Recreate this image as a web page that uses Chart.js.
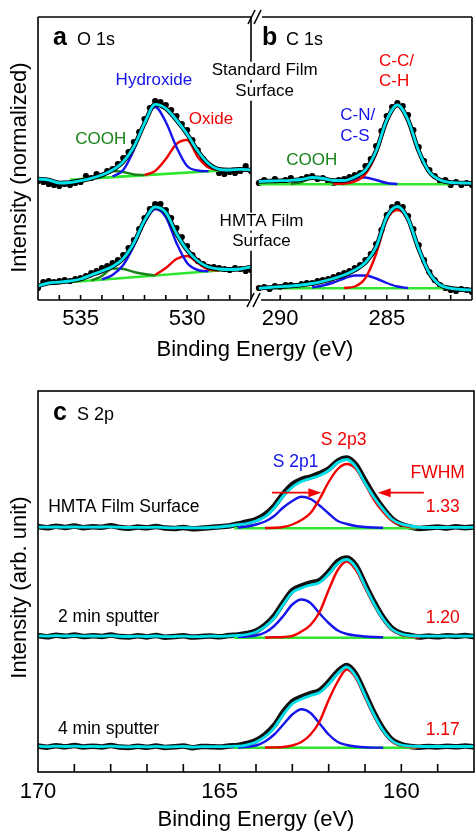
<!DOCTYPE html>
<html>
<head>
<meta charset="utf-8">
<script src="https://cdn.jsdelivr.net/npm/chart.js@4.4.0/dist/chart.umd.min.js"></script>
<style>
  html, body { margin: 0; padding: 0; background: #fff; overflow: hidden; }
  #cvs_topo { position: absolute; left: 0; top: 0; }
  #cvs_baixo { position: absolute; left: 0; top: 370px; }
</style>
</head>
<body>
<canvas id="cvs_topo" width="476" height="370"></canvas>
<canvas id="cvs_baixo" width="476" height="461"></canvas>
<script>
// ---------- O 1s (painel a) ----------
const oTicks = [535, 530];
const oEnergy = [537, 536.5, 536, 535.5, 535, 534.5, 534, 533.5, 533, 532.5, 532, 531.5, 531, 530.5, 530, 529.5, 529, 528.5, 528, 527.5, 527];
const oDotEnergy = [537, 536.75, 536.5, 536.25, 536, 535.75, 535.5, 535.25, 535, 534.75, 534.5, 534.25, 534, 533.75, 533.5, 533.25, 533, 532.75, 532.5, 532.25, 532, 531.75, 531.5, 531.25, 531, 530.75, 530.5, 530.25, 530, 529.75, 529.5, 529.25, 529, 528.75, 528.5, 528.25, 528, 527.75, 527.5, 527.25, 527];

const oStdData = [119, 118, 116, 115, 114, 116, 115, 117, 118, 124, 122, 126, 124, 129, 131, 136, 142, 148, 158, 168, 181, 192, 199, 198, 195, 190, 184, 176, 170, 160, 150, 141, 135, 131, 127, 126, 128, 127, 129, 134, 129];
const oStdFit = [121, 120, 117, 117.5, 119.3, 121.7, 125, 130, 138.3, 153.3, 176.7, 195.7, 191.7, 180, 166, 149, 136.5, 130.7, 130, 130.7, 130];
const oStdHydroxide = [null, null, null, null, null, null, null, 123.5, 130, 150, 178, 193, 178, 153, 134, 129.5, 128.7, null, null, null, null];
const oStdOxide = [null, null, null, null, null, null, null, null, null, null, 125, 129, 141, 156, 160, 143, 132.5, 130.3, 130, null, null];
const oStdCooh = [null, null, null, null, 120.8, 121.5, 123.5, 129, 128, 125.5, 124.9, null, null, null, null, null, null, null, null, null, null];
const oStdBgEnergy = [535.5, 528];
const oStdBg = [120.3, 130];

const oHmtaData = [12, 18, 19, 18, 19, 20, 19, 21, 22, 24, 27, 29, 32, 34, 37, 40, 45, 52, 60, 71, 82, 91, 96, 96, 90, 82, 72, 63, 54, 45, 39, 36, 33, 33, 32, 31, 30, 32, 31, 29, 30];
const oHmtaFit = [14, 17, 17.8, 19, 21, 25, 29, 33.5, 41.5, 57, 79.5, 93, 87.5, 66.5, 50, 39, 33, 31, 30.5, 31, 33];
const oHmtaHydroxide = [null, null, null, null, null, null, 20.5, 25, 35, 54, 77, 91, 83, 57, 37, 30, 28.7, null, null, null, null];
const oHmtaOxide = [null, null, null, null, null, null, null, null, null, null, null, 25, 32, 41, 44, 37, 30.5, 29.5, null, null, null];
const oHmtaCooh = [null, null, null, null, null, 19.5, 24, 31.5, 31, 28, 26, 24.5, null, null, null, null, null, null, null, null, null];
const oHmtaBgEnergy = [535.4, 528.2];
const oHmtaBg = [18, 30];

// ---------- C 1s (painel b) ----------
const cTicks = [290, 285];
const cEnergy = [291, 290.5, 290, 289.5, 289, 288.5, 288, 287.5, 287, 286.5, 286, 285.5, 285, 284.5, 284, 283.5, 283, 282.5, 282, 281.5, 281];
const cDotEnergy = [291, 290.75, 290.5, 290.25, 290, 289.75, 289.5, 289.25, 289, 288.75, 288.5, 288.25, 288, 287.75, 287.5, 287.25, 287, 286.75, 286.5, 286.25, 286, 285.75, 285.5, 285.25, 285, 284.75, 284.5, 284.25, 284, 283.75, 283.5, 283.25, 283, 282.75, 282.5, 282.25, 282, 281.75, 281.5, 281.25, 281];

const cStdData = [117, 120, 118, 121, 118, 120, 122, 119, 121, 123, 124, 121, 122, 118, 117, 120, 121, 123, 125, 127, 134, 141, 154, 169, 184, 193, 197, 194, 185, 170, 153, 139, 130, 124, 119, 120, 115, 118, 115, 117, 115];
const cStdFit = [118.5, 119, 119.3, 119.7, 120.5, 122.5, 121.5, 119.5, 119.5, 123, 130, 149, 180, 195, 180, 149, 128, 120, 117.5, 117, 116.7];
const cStdCC = [null, null, null, null, null, null, null, 116, 116.5, 118.5, 126, 146, 178, 194, 179, 148, 127.5, 119.5, 116.5, 116, null];
const cStdCN = [null, null, null, null, null, null, null, 116, 117, 121, 122.5, 120, 117, 116, null, null, null, null, null, null, null];
const cStdCooh = [null, null, null, 116, 118, 121.5, 120.5, 117, 116, null, null, null, null, null, null, null, null, null, null, null, null];
const cStdBgEnergy = [291, 282];
const cStdBg = [115.7, 115.7];

const cHmtaData = [12, 13, 11, 14, 13, 15, 15, 14, 16, 17, 17, 19, 20, 21, 23, 25, 27, 29, 32, 35, 40, 46, 56, 70, 85, 93, 96, 93, 84, 71, 55, 40, 28, 20, 15, 12, 10, 9, 11, 10, 8];
const cHmtaFit = [11.7, 12.5, 13.3, 14, 15, 16.5, 18.7, 21.5, 25, 30, 37.5, 53, 83, 93.5, 81, 51, 27, 15, 11.7, 10.5, 10];
const cHmtaCC = [null, null, null, null, null, null, null, null, 12, 13.5, 22, 46, 80, 90, 80, 50.5, 26.5, 14.5, 11.7, null, null];
const cHmtaCN = [null, null, null, null, null, 12.5, 14.5, 17.5, 21.5, 24.5, 24.5, 21.5, 17, 13.5, 12, null, null, null, null, null, null];
const cHmtaBgEnergy = [291, 281.5];
const cHmtaBg = [11.7, 11.7];

// ---------- S 2p (painel c) ----------
const sTicks = [170, 165, 160];
const sEnergy = [170, 169.75, 169.5, 169.25, 169, 168.75, 168.5, 168.25, 168, 167.75, 167.5, 167.25, 167, 166.75, 166.5, 166.25, 166, 165.75, 165.5, 165.25, 165, 164.75, 164.5, 164.25, 164, 163.75, 163.5, 163.25, 163, 162.75, 162.5, 162.25, 162, 161.75, 161.5, 161.25, 161, 160.75, 160.5, 160.25, 160, 159.75, 159.5, 159.25, 159, 158.75, 158.5, 158.25, 158];
const sFitEnergy = [165, 164.75, 164.5, 164.25, 164, 163.75, 163.5, 163.25, 163, 162.75, 162.5, 162.25, 162, 161.75, 161.5, 161.25, 161, 160.75, 160.5, 160.25, 160, 159.75, 159.5, 159.25, 159];
const sBgEnergy = [164.6, 159.6];

const sHmtaData = [245.5, 244.2, 245.8, 244.6, 246, 244.3, 245.2, 244.8, 246.2, 244.5, 243.8, 245, 244.2, 245.6, 243.9, 243.5, 244.6, 243.2, 243.8, 244.4, 245.2, 246, 248, 250, 252.5, 257.5, 266, 278, 287.5, 292.5, 295, 298.5, 303, 311, 314, 307, 291.5, 276.5, 263.5, 253, 247.5, 245, 243.5, 244.2, 245, 244, 245.2, 244.3, 245];
const sHmtaFit = [245, 244.8, 245, 244.9, 245.1, 244.8, 244.9, 245, 245.2, 244.8, 244.5, 244.7, 244.6, 244.8, 244.4, 244.2, 244.4, 244.1, 244.2, 244.5, 245, 246, 247.3, 248.5, 251, 255.3, 264, 276, 285, 290.5, 293.5, 296.5, 301.5, 309.5, 312.5, 305, 289, 274.5, 262.5, 252.5, 248, 246, 244.7, 244.5, 244.5, 244.5, 244.6, 244.5, 244.6];
const sHmta2p3 = [null, null, null, null, null, 244, 244.2, 245, 247.5, 252, 259, 273, 290, 303, 308, 303, 288, 272, 260, 251, 247, 245, 244.5, null, null];
const sHmta2p1 = [null, null, 244.5, 245.5, 247.5, 250.5, 256, 264.5, 271, 275.3, 273, 266.5, 258.5, 251, 248, 246, 245, 244.5, 244.2, null, null, null, null, null, null];
const sHmtaBg = [243.7, 243.7];

const s2minData = [136.5, 135.2, 136.8, 135.8, 137, 135.5, 136.2, 135.6, 136.9, 135.4, 135, 136.3, 135.1, 136.6, 134.8, 135.4, 136.2, 134.9, 135.5, 136, 135.2, 136.4, 137, 138.5, 141, 147, 156, 169.5, 181.5, 186, 189, 191.5, 200, 210.5, 214, 206.5, 188, 170, 154.5, 143.5, 138.5, 136.5, 135, 136, 135.2, 136.3, 135.5, 136.4, 135.4];
const s2minFit = [136.2, 135.8, 136.3, 136, 136.4, 135.9, 136, 135.9, 136.3, 135.7, 135.5, 135.9, 135.5, 136, 135.3, 135.5, 135.8, 135.3, 135.5, 135.8, 135.7, 136, 136.5, 137.5, 140, 145.3, 154, 167.5, 179.5, 184, 187, 189.5, 198, 208.5, 212.5, 204.5, 186, 168, 153, 142.5, 138, 136.3, 135.8, 135.8, 135.8, 135.8, 135.8, 135.8, 135.8];
const s2min2p3 = [null, null, null, null, null, 134.5, 134.7, 135, 136, 140.5, 147, 160, 182, 202, 210.5, 202, 184.5, 167, 152.5, 142, 137.5, 135.5, 134.5, null, null];
const s2min2p1 = [null, null, 135, 135.5, 136.5, 139.5, 146, 156, 167.5, 172.5, 169, 158.5, 149, 141.5, 138, 136.5, 135.5, 135, 134.7, null, null, null, null, null, null];
const s2minBg = [134.3, 134.3];

const s4minData = [26, 24.8, 26.3, 25.2, 26.5, 25, 25.8, 25.1, 26.4, 24.9, 24.6, 25.8, 24.7, 26, 24.5, 25.2, 26.1, 24.2, 25.6, 25.3, 25, 26, 26.5, 28.5, 31.5, 37.5, 46.5, 60, 70.5, 75, 78.5, 81.5, 90, 100.5, 106.5, 97.5, 78.5, 59, 43, 32, 27.5, 25.5, 24.8, 25.6, 24.9, 25.8, 25.2, 26, 25.3];
const s4minFit = [25.8, 25.4, 25.8, 25.5, 25.9, 25.4, 25.6, 25.4, 25.8, 25.3, 25.1, 25.5, 25.2, 25.6, 25, 25.3, 25.6, 24.9, 25.4, 25.4, 25.3, 25.6, 25.8, 27.2, 30, 35.3, 44.2, 57.5, 68.3, 73, 76.5, 79.5, 88, 98.5, 105, 95.5, 76.5, 57, 41.5, 31, 27, 25.8, 25.5, 25.5, 25.5, 25.5, 25.5, 25.5, 25.5];
const s4min2p3 = [null, null, null, null, null, 24.5, 24.6, 25, 26.5, 30, 37.5, 50.5, 72, 90.5, 102.5, 94, 75.5, 56, 41, 30.5, 26.5, 25, 24.5, null, null];
const s4min2p1 = [null, null, 24.5, 25.3, 26.5, 30.5, 37.5, 47.5, 57.5, 62.7, 59, 48.5, 37.5, 30, 27, 25.5, 24.7, 24.4, 24.3, null, null, null, null, null, null];
const s4minBg = [24.3, 24.3];

// ---------- estilos ----------
const FONTE = '"Liberation Sans", Arial, sans-serif';
const AZUL = "rgb(20, 20, 235)";
const VERMELHO = "rgb(240, 0, 0)";
const VERDE_ESCURO = "rgb(25, 130, 25)";
const VERDE_CLARO = "rgb(45, 230, 45)";
const CIANO = "rgb(0, 225, 235)";

// textos dos paineis a/b, posicao em unidades dos eixos
const rotulosTopo = [
  { eixo: "xa", e: 531.56, v: 220, t: "Hydroxide", cor: AZUL },
  { eixo: "xa", e: 528.88, v: 181, t: "Oxide", cor: VERMELHO },
  { eixo: "xa", e: 534.05, v: 160.7, t: "COOH", cor: VERDE_ESCURO },
  { eixo: "xb", e: 290.73, v: 229.3, t: "Standard Film", cor: "#000", fundo: true },
  { eixo: "xb", e: 290.73, v: 208.3, t: "Surface", cor: "#000", fundo: true },
  { eixo: "xb", e: 290.88, v: 78.3, t: "HMTA Film", cor: "#000", fundo: true },
  { eixo: "xb", e: 290.88, v: 58.3, t: "Surface", cor: "#000", fundo: true },
  { eixo: "xb", e: 285.36, v: 238.3, t: "C-C/", cor: VERMELHO, alinhar: "left" },
  { eixo: "xb", e: 285.36, v: 218.3, t: "C-H", cor: VERMELHO, alinhar: "left" },
  { eixo: "xb", e: 287.18, v: 185, t: "C-N/", cor: AZUL, alinhar: "left" },
  { eixo: "xb", e: 287.18, v: 163.3, t: "C-S", cor: AZUL, alinhar: "left" },
  { eixo: "xb", e: 288.52, v: 139.3, t: "COOH", cor: VERDE_ESCURO },
];

const rotulosBaixo = [
  { e: 161.59, v: 332, t: "S 2p3", cor: VERMELHO },
  { e: 162.91, v: 310.3, t: "S 2p1", cor: AZUL },
  { e: 159.0, v: 298.7, t: "FWHM", cor: VERMELHO },
  { e: 158.86, v: 265.3, t: "1.33", cor: VERMELHO },
  { e: 158.86, v: 153.7, t: "1.20", cor: VERMELHO },
  { e: 158.86, v: 42, t: "1.17", cor: VERMELHO },
  { e: 169.72, v: 265.3, t: "HMTA Film Surface", cor: "#000", alinhar: "left" },
  { e: 169.45, v: 155.3, t: "2 min sputter", cor: "#000", alinhar: "left" },
  { e: 169.45, v: 42.7, t: "4 min sputter", cor: "#000", alinhar: "left" },
];

// setas do FWHM (de -> ate, na altura v)
const setasFwhm = [
  { de: 163.56, ate: 162.2, v: 279.3 },
  { de: 159.38, ate: 160.65, v: 279.3 },
];

function pontos(energias, valores) {
  const lista = [];
  for (let i = 0; i < energias.length; i++) {
    if (valores[i] !== null) lista.push({ x: energias[i], y: valores[i] });
  }
  return lista;
}

function curva(eixoX, energias, valores, cor, largura, ordem) {
  return {
    xAxisID: eixoX,
    yAxisID: "y",
    data: pontos(energias, valores),
    borderColor: cor,
    borderWidth: largura,
    pointRadius: 0,
    fill: false,
    cubicInterpolationMode: "monotone",
    order: ordem,
  };
}

function bolinhas(eixoX, energias, valores) {
  return {
    xAxisID: eixoX,
    yAxisID: "y",
    data: pontos(energias, valores),
    showLine: false,
    pointRadius: 3.1,
    pointBackgroundColor: "#000",
    pointBorderWidth: 0,
    order: 5,
  };
}

function escrever(ctx, t, x, y, cor, fonte, alinhar, fundo) {
  ctx.save();
  ctx.font = fonte;
  ctx.textAlign = alinhar || "center";
  ctx.textBaseline = "middle";
  if (fundo) {
    const w = ctx.measureText(t).width;
    const x0 = alinhar === "left" ? x : x - w / 2;
    ctx.fillStyle = "#fff";
    ctx.fillRect(x0 - 1, y - 9, w + 2, 18);
  }
  ctx.fillStyle = cor;
  ctx.fillText(t, x, y);
  ctx.restore();
}

function linha(ctx, x1, y1, x2, y2) {
  ctx.beginPath();
  ctx.moveTo(x1, y1);
  ctx.lineTo(x2, y2);
  ctx.stroke();
}

function tituloPainel(ctx, letra, nome, x, y) {
  ctx.save();
  ctx.fillStyle = "#000";
  ctx.textBaseline = "alphabetic";
  ctx.textAlign = "left";
  ctx.font = "bold 25px " + FONTE;
  ctx.fillText(letra, x, y);
  ctx.font = "18px " + FONTE;
  ctx.fillText(nome, x + 24, y);
  ctx.restore();
}

// moldura, marcas, quebra e textos do grafico de cima
const molduraTopo = {
  id: "molduraTopo",
  afterDraw(chart) {
    const ctx = chart.ctx;
    const xa = chart.scales.xa;
    const xb = chart.scales.xb;
    const y = chart.scales.y;
    const topo = chart.chartArea.top;
    const base = chart.chartArea.bottom;
    const xq = xa.right;

    ctx.save();
    ctx.strokeStyle = "#000";
    ctx.lineWidth = 1.6;
    linha(ctx, xa.left, topo, xa.left, base);
    linha(ctx, xb.right, topo, xb.right, base);
    linha(ctx, xq, topo, xq, base);
    linha(ctx, xa.left, topo, xq, topo);
    linha(ctx, xq + 11, topo, xb.right, topo);
    linha(ctx, xa.left, base, xq - 2, base);
    linha(ctx, xq + 10, base, xb.right, base);

    // marcas de quebra "//"
    for (const k of [0, 6]) {
      linha(ctx, xq - 3 + k, topo + 7, xq + 4 + k, topo - 7);
      linha(ctx, xq - 4 + k, base + 7, xq + 3 + k, base - 7);
    }

    // marcas a cada 1 eV, para dentro
    for (const eixo of [xa, xb]) {
      for (let e = Math.ceil(eixo.min + 0.5); e <= Math.floor(eixo.max - 0.5); e++) {
        const px = eixo.getPixelForValue(e);
        linha(ctx, px, base, px, base - 5);
      }
    }
    ctx.restore();

    for (const r of rotulosTopo) {
      const eixo = chart.scales[r.eixo];
      escrever(ctx, r.t, eixo.getPixelForValue(r.e), y.getPixelForValue(r.v), r.cor, "17px " + FONTE, r.alinhar, r.fundo);
    }

    tituloPainel(ctx, "a", "O 1s", xa.left + 15, topo + 28);
    tituloPainel(ctx, "b", "C 1s", xb.left + 11, topo + 28);
  },
};

const molduraBaixo = {
  id: "molduraBaixo",
  afterDraw(chart) {
    const ctx = chart.ctx;
    const x = chart.scales.x;
    const y = chart.scales.y;
    const area = chart.chartArea;

    ctx.save();
    ctx.strokeStyle = "#000";
    ctx.lineWidth = 1.6;
    ctx.strokeRect(area.left, area.top, area.right - area.left, area.bottom - area.top);
    for (let e = Math.ceil(x.min + 0.5); e <= Math.floor(x.max - 0.5); e++) {
      const px = x.getPixelForValue(e);
      linha(ctx, px, area.bottom, px, area.bottom - 8);
    }

    // setas FWHM
    ctx.strokeStyle = VERMELHO;
    ctx.fillStyle = VERMELHO;
    ctx.lineWidth = 1.8;
    for (const s of setasFwhm) {
      const x1 = x.getPixelForValue(s.de);
      const x2 = x.getPixelForValue(s.ate);
      const py = y.getPixelForValue(s.v);
      const dir = x2 > x1 ? 1 : -1;
      linha(ctx, x1, py, x2 - dir * 8, py);
      ctx.beginPath();
      ctx.moveTo(x2, py);
      ctx.lineTo(x2 - dir * 13, py - 4.5);
      ctx.lineTo(x2 - dir * 13, py + 4.5);
      ctx.closePath();
      ctx.fill();
    }
    ctx.restore();

    for (const r of rotulosBaixo) {
      escrever(ctx, r.t, x.getPixelForValue(r.e), y.getPixelForValue(r.v), r.cor, "17.5px " + FONTE, r.alinhar, false);
    }

    tituloPainel(ctx, "c", "S 2p", area.left + 15, area.top + 29);
  },
};

function fixarTicks(valores) {
  return function (s) {
    s.ticks = valores.map(function (v) { return { value: v }; });
  };
}

function eixoEnergia(min, max, peso, ticks) {
  return {
    type: "linear",
    position: "bottom",
    stack: "energia",
    stackWeight: peso,
    min: min,
    max: max,
    reverse: true,
    grid: { display: false, drawTicks: false },
    border: { display: false },
    ticks: { padding: 6, color: "#000", font: { family: FONTE, size: 22 } },
    afterBuildTicks: fixarTicks(ticks),
    afterFit: function (s) { s.height = 30; },
  };
}

// Grafico de cima: O 1s e C 1s lado a lado
new Chart(document.getElementById("cvs_topo"), {
  type: "line",
  data: {
    datasets: [
      curva("xa", oEnergy, oStdFit, CIANO, 2.8, 1),
      curva("xa", oEnergy, oStdFit, "#000", 4.6, 2),
      curva("xa", oEnergy, oStdHydroxide, AZUL, 2.4, 3),
      curva("xa", oEnergy, oStdOxide, VERMELHO, 2.4, 3),
      curva("xa", oEnergy, oStdCooh, VERDE_ESCURO, 2.4, 3),
      curva("xa", oStdBgEnergy, oStdBg, VERDE_CLARO, 2.6, 4),
      bolinhas("xa", oDotEnergy, oStdData),

      curva("xa", oEnergy, oHmtaFit, CIANO, 2.8, 1),
      curva("xa", oEnergy, oHmtaFit, "#000", 4.6, 2),
      curva("xa", oEnergy, oHmtaHydroxide, AZUL, 2.4, 3),
      curva("xa", oEnergy, oHmtaOxide, VERMELHO, 2.4, 3),
      curva("xa", oEnergy, oHmtaCooh, VERDE_ESCURO, 2.4, 3),
      curva("xa", oHmtaBgEnergy, oHmtaBg, VERDE_CLARO, 2.6, 4),
      bolinhas("xa", oDotEnergy, oHmtaData),

      curva("xb", cEnergy, cStdFit, CIANO, 2.8, 1),
      curva("xb", cEnergy, cStdFit, "#000", 4.6, 2),
      curva("xb", cEnergy, cStdCC, VERMELHO, 2.4, 3),
      curva("xb", cEnergy, cStdCN, AZUL, 2.4, 3),
      curva("xb", cEnergy, cStdCooh, VERDE_ESCURO, 2.4, 3),
      curva("xb", cStdBgEnergy, cStdBg, VERDE_CLARO, 2.6, 4),
      bolinhas("xb", cDotEnergy, cStdData),

      curva("xb", cEnergy, cHmtaFit, CIANO, 2.8, 1),
      curva("xb", cEnergy, cHmtaFit, "#000", 4.6, 2),
      curva("xb", cEnergy, cHmtaCC, VERMELHO, 2.4, 3),
      curva("xb", cEnergy, cHmtaCN, AZUL, 2.4, 3),
      curva("xb", cHmtaBgEnergy, cHmtaBg, VERDE_CLARO, 2.6, 4),
      bolinhas("xb", cDotEnergy, cHmtaData),
    ],
  },
  options: {
    responsive: false,
    animation: false,
    events: [],
    layout: { padding: { top: 17, right: 2, bottom: 0, left: 0 } },
    plugins: { legend: { display: false }, tooltip: { enabled: false } },
    scales: {
      xa: eixoEnergia(527, 537, 214, oTicks),
      xb: eixoEnergia(281, 291.37, 222, cTicks),
      xt: {
        type: "linear",
        position: "bottom",
        weight: 1,
        grid: { display: false, drawTicks: false },
        border: { display: false },
        ticks: { display: false },
        title: { display: true, text: "Binding Energy (eV)", color: "#000", font: { family: FONTE, size: 22, lineHeight: 1 }, padding: { top: 0, bottom: 9 } },
        afterFit: function (s) { s.height = 40; },
      },
      y: {
        type: "linear",
        position: "left",
        min: 0,
        max: 283,
        grid: { display: false, drawTicks: false },
        border: { display: false },
        ticks: { display: false },
        // os espacos no fim descem o titulo alguns pixels, como no original
        title: { display: true, text: "Intensity (normalized)   ", color: "#000", font: { family: FONTE, size: 22, lineHeight: 1 }, padding: { top: 9, bottom: 0 } },
        afterFit: function (s) { s.width = 38; },
      },
    },
  },
  plugins: [molduraTopo],
});

// Grafico de baixo: S 2p
new Chart(document.getElementById("cvs_baixo"), {
  type: "line",
  data: {
    datasets: [
      curva("x", sEnergy, sHmtaFit, CIANO, 2.8, 1),
      curva("x", sFitEnergy, sHmta2p3, VERMELHO, 2.4, 2),
      curva("x", sFitEnergy, sHmta2p1, AZUL, 2.4, 2),
      curva("x", sBgEnergy, sHmtaBg, VERDE_CLARO, 2.6, 3),
      curva("x", sEnergy, sHmtaData, "#111", 5.5, 4),

      curva("x", sEnergy, s2minFit, CIANO, 2.8, 1),
      curva("x", sFitEnergy, s2min2p3, VERMELHO, 2.4, 2),
      curva("x", sFitEnergy, s2min2p1, AZUL, 2.4, 2),
      curva("x", sBgEnergy, s2minBg, VERDE_CLARO, 2.6, 3),
      curva("x", sEnergy, s2minData, "#111", 5.5, 4),

      curva("x", sEnergy, s4minFit, CIANO, 2.8, 1),
      curva("x", sFitEnergy, s4min2p3, VERMELHO, 2.4, 2),
      curva("x", sFitEnergy, s4min2p1, AZUL, 2.4, 2),
      curva("x", sBgEnergy, s4minBg, VERDE_CLARO, 2.6, 3),
      curva("x", sEnergy, s4minData, "#111", 5.5, 4),
    ],
  },
  options: {
    responsive: false,
    animation: false,
    events: [],
    layout: { padding: { top: 21, right: 2, bottom: 0, left: 0 } },
    plugins: { legend: { display: false }, tooltip: { enabled: false } },
    scales: {
      x: {
        type: "linear",
        position: "bottom",
        min: 158,
        max: 170,
        reverse: true,
        grid: { display: false, drawTicks: false },
        border: { display: false },
        ticks: { padding: 6.5, color: "#000", font: { family: FONTE, size: 22 } },
        afterBuildTicks: fixarTicks(sTicks),
        title: { display: true, text: "Binding Energy (eV)", color: "#000", font: { family: FONTE, size: 22, lineHeight: 1 }, padding: { top: 0, bottom: 0 } },
        afterFit: function (s) { s.height = 59; },
      },
      y: {
        type: "linear",
        position: "left",
        min: 0,
        max: 381,
        grid: { display: false, drawTicks: false },
        border: { display: false },
        ticks: { display: false },
        title: { display: true, text: "Intensity (arb. unit)  ", color: "#000", font: { family: FONTE, size: 22, lineHeight: 1 }, padding: { top: 9, bottom: 0 } },
        afterFit: function (s) { s.width = 38; },
      },
    },
  },
  plugins: [molduraBaixo],
});
</script>
</body>
</html>
